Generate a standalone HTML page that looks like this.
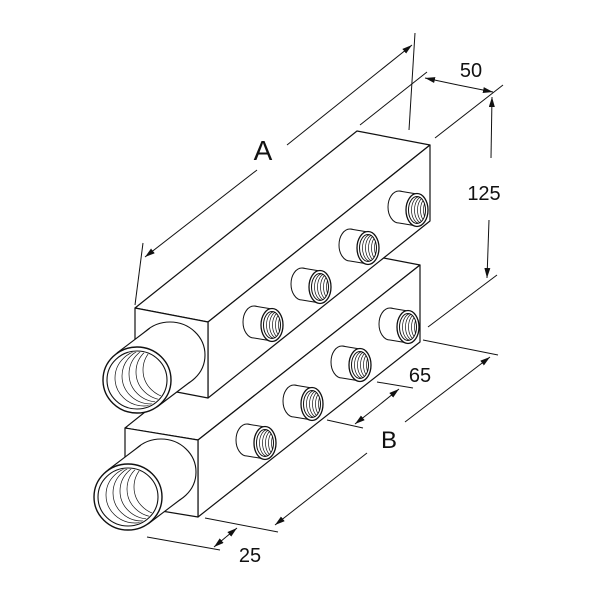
<!DOCTYPE html>
<html><head><style>html,body{margin:0;padding:0;background:#fff}svg{display:block}</style></head>
<body>
<svg width="600" height="600" viewBox="0 0 600 600" xmlns="http://www.w3.org/2000/svg">
<defs>
<marker id="ar" markerWidth="10" markerHeight="6" refX="10" refY="3" orient="auto" markerUnits="userSpaceOnUse"><path d="M0,0 L10,3 L0,6 Z" fill="#111"/></marker>
<clipPath id="nc"><ellipse cx="0" cy="0" rx="8.5" ry="13.5"/></clipPath>
<clipPath id="pc"><ellipse cx="0" cy="0" rx="29" ry="28"/></clipPath>
<g id="nip" fill="#fff" stroke="#111" stroke-width="1">
<ellipse cx="-18" cy="-3" rx="11" ry="16"/>
<polygon points="-18,-19 0,-16 0,16 -18,13" stroke="none"/>
<line x1="-18" y1="-19" x2="0" y2="-16"/><line x1="-18" y1="13" x2="0" y2="16"/>
<ellipse cx="0" cy="0" rx="11" ry="16.5" stroke-width="1.3"/>
<ellipse cx="0" cy="0" rx="8.5" ry="13.5" stroke-width="1"/>
<g clip-path="url(#nc)" fill="none" stroke-width="0.7">
<ellipse cx="3" cy="0" rx="8.5" ry="13.5"/><ellipse cx="6" cy="0" rx="8.5" ry="13.5"/><ellipse cx="9" cy="0" rx="8.5" ry="13.5"/><ellipse cx="12" cy="0" rx="8.5" ry="13.5"/><ellipse cx="15" cy="0" rx="8.5" ry="13.5"/>
</g></g>
<g id="pipe" fill="#fff" stroke="#111" stroke-width="1.1">
<ellipse cx="33" cy="-25" rx="35" ry="33"/>
<polygon points="-20,-27 13,-52 53,2 20,27" stroke="none"/>
<line x1="-20" y1="-27" x2="13" y2="-52"/><line x1="20" y1="27" x2="53" y2="2"/>
<ellipse cx="0" cy="0" rx="34" ry="33" stroke-width="1.4"/>
<ellipse cx="0" cy="0" rx="30" ry="29"/>
<g clip-path="url(#pc)" fill="none" stroke-width="0.7">
<ellipse cx="7" cy="-2" rx="29" ry="28"/><ellipse cx="14" cy="-4" rx="29" ry="28"/><ellipse cx="21" cy="-6" rx="29" ry="28"/><ellipse cx="28" cy="-8" rx="29" ry="28"/><ellipse cx="35" cy="-10" rx="29" ry="28"/>
</g></g>
</defs>

<g fill="#fff" stroke="#111" stroke-width="1.2" stroke-linejoin="round">
<polygon points="125,428 198,440 420,265 347,251"/>
<polygon points="198,440 198,517 420,342 420,265"/>
<polygon points="125,428 198,440 198,517 125,505"/>
</g>
<use href="#nip" x="265" y="443"/><use href="#nip" x="312" y="404"/><use href="#nip" x="360" y="365"/><use href="#nip" x="408" y="327"/>
<use href="#pipe" x="128" y="497"/>

<g fill="#fff" stroke="#111" stroke-width="1.2" stroke-linejoin="round">
<polygon points="135,308 208,322 430,145 357,131"/>
<polygon points="208,322 208,398 430,221 430,145"/>
<polygon points="135,308 208,322 208,398 135,384"/>
</g>
<use href="#nip" x="272" y="325"/><use href="#nip" x="320" y="287"/><use href="#nip" x="368" y="248"/><use href="#nip" x="417" y="210"/>
<use href="#pipe" x="137" y="380"/>

<g stroke="#111" stroke-width="1" fill="none">
<line x1="143" y1="243" x2="135" y2="305"/>
<line x1="415" y1="33" x2="409" y2="130"/>
<line x1="257" y1="170" x2="145" y2="257" marker-end="url(#ar)"/>
<line x1="287" y1="145" x2="412" y2="45" marker-end="url(#ar)"/>
<line x1="427" y1="72" x2="360" y2="125"/>
<line x1="503" y1="85" x2="435" y2="138"/>
<line x1="458" y1="85" x2="425" y2="78" marker-end="url(#ar)"/>
<line x1="458" y1="85" x2="493" y2="92" marker-end="url(#ar)"/>
<line x1="491" y1="158" x2="492" y2="97" marker-end="url(#ar)"/>
<line x1="489" y1="220" x2="487" y2="278" marker-end="url(#ar)"/>
<line x1="497" y1="275" x2="428" y2="327"/>
<line x1="423" y1="340" x2="498" y2="355"/>
<line x1="377" y1="382" x2="413" y2="388"/>
<line x1="327" y1="420" x2="363" y2="428"/>
<line x1="405" y1="422" x2="490" y2="357" marker-end="url(#ar)"/>
<line x1="367" y1="453" x2="275" y2="525" marker-end="url(#ar)"/>
<line x1="378" y1="406" x2="399" y2="389" marker-end="url(#ar)"/>
<line x1="378" y1="406" x2="355" y2="424" marker-end="url(#ar)"/>
<line x1="205" y1="518" x2="278" y2="532"/>
<line x1="147" y1="537" x2="220" y2="550"/>
<line x1="226" y1="537" x2="237" y2="528" marker-end="url(#ar)"/>
<line x1="226" y1="537" x2="214" y2="547" marker-end="url(#ar)"/>
</g>
<g font-family="Liberation Sans, sans-serif" fill="#111" text-anchor="middle">
<text x="263" y="160" font-size="28">A</text>
<text x="471" y="77" font-size="20">50</text>
<text x="484" y="200" font-size="20">125</text>
<text x="420" y="382" font-size="20">65</text>
<text x="389" y="448" font-size="24">B</text>
<text x="250" y="562" font-size="20">25</text>
</g>
</svg>
</body></html>
